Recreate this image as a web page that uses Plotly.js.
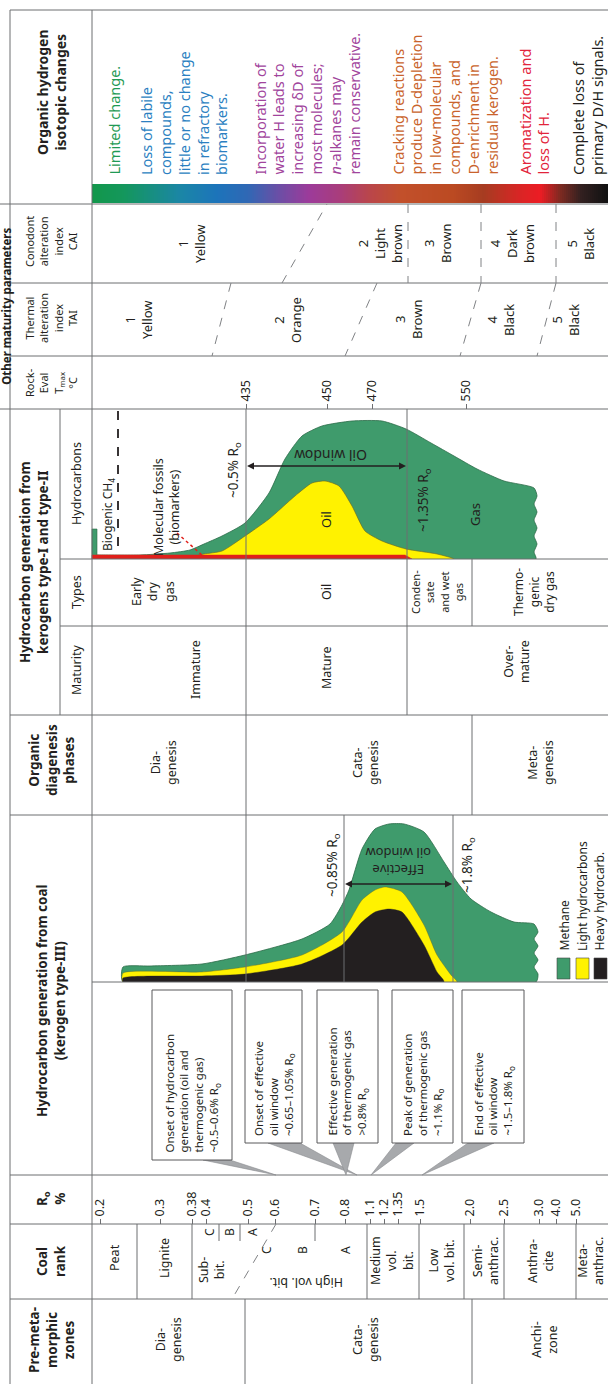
<!DOCTYPE html>
<html>
<head>
<meta charset="utf-8">
<script src="https://cdn.plot.ly/plotly-3.0.1.min.js"></script>
<style>html,body{margin:0;padding:0;background:#fff}#chart{width:608px;height:1384px}</style>
</head>
<body>
<div id="chart"></div>
<script>
const FONT = 'Noto Sans, Open Sans, sans-serif';
const INK = '#231f20';
const GRID = '#6d6e71';
const GREEN = '#3f9b6c', YELLOW = '#fff200', HEAVY = '#231f20', RED = '#e0201b';

// Vitrinite reflectance scale along the maturity direction
const roLabels = ['0.2','0.3','0.38','0.4','0.5','0.6','0.7','0.8','1.1','1.2','1.35','1.5','2.0','2.5','3.0','4.0','5.0'];
const roAt     = [100, 160, 192, 206, 248, 275, 315, 345, 370, 384, 398, 420, 470, 504, 539, 556, 576];

// Rock-Eval Tmax (°C)
const tmaxLabels = ['435','450','470','550'];
const tmaxAt     = [246, 327, 372, 466];

// Kerogen type-I / type-II generation (relative amount above baseline)
const gasPos = [97, 99, 140, 170, 190, 204, 222, 245, 269, 285, 302, 322, 352, 382, 406, 431, 454, 477, 504, 534, 537, 534, 537, 534, 537, 534, 537, 534, 536];
const gasAmt = [4, 4, 4, 6, 9, 15, 23, 36, 66, 100, 123, 133, 138, 138, 130, 116, 103, 90, 78, 71, 63, 55, 47, 39, 31, 23, 15, 7, 0];
const bioGasPos = [92, 92, 97, 97];
const bioGasAmt = [0, 30, 30, 0];
const oilPos = [178, 195, 204, 222, 245, 269, 295, 312, 325, 339, 352, 365, 382, 406, 437, 454];
const oilAmt = [0, 3, 5, 8, 23, 40, 63, 76, 78, 73, 53, 28, 18, 10, 5, 0];
const markerPos = [92, 405, 412];
const markerAmt = [4, 4, 0];

// Coal (kerogen type-III) generation
const coalGasPos = [123, 150, 202, 245, 302, 330, 342, 349, 362, 375, 389, 404, 424, 444, 457, 471, 491, 514, 534, 538, 534, 538, 534, 538, 534, 538, 536];
const coalGasAmt = [15, 16, 18, 27, 43, 58, 77, 92, 133, 153, 158, 158, 150, 120, 100, 83, 70, 60, 58, 50, 43, 36, 29, 22, 15, 8, 0];
const coalLightPos = [123, 202, 245, 302, 342, 362, 375, 385, 402, 424, 437, 451, 457];
const coalLightAmt = [9, 10, 15, 27, 50, 82, 92, 95, 90, 57, 27, 7, 0];
const coalHeavyPos = [123, 202, 245, 302, 342, 362, 375, 389, 402, 424, 437, 444];
const coalHeavyAmt = [4, 6, 8, 18, 37, 60, 70, 73, 70, 37, 10, 0];

// Oil-window limits (maturity positions)
const oilWindow = [246, 407];
const effWindow = [344, 453];

// Isotope-change colour band along the maturity direction
const bandStops = [
  [0.00, '#12974b'], [0.06, '#14975c'], [0.17, '#1b86a6'], [0.24, '#1c74ba'],
  [0.30, '#2f68b5'], [0.36, '#6a4fa6'], [0.42, '#9c3b9a'], [0.48, '#a93d7b'],
  [0.54, '#ba4649'], [0.60, '#c2502b'], [0.70, '#bb4a22'], [0.76, '#a63c21'],
  [0.83, '#d92525'], [0.87, '#ec1c24'], [0.91, '#7c2a21'], [0.95, '#322020'], [1.00, '#111111']
];

function closed(pos, amt) {
  return {x: [pos[0]].concat(pos, [pos[0]]), y: [0].concat(amt, [0])};
}

const traces = [];
// colour band
const bandX = [], bandZ = [];
for (let p = 92; p <= 608; p += 2) bandX.push(p);
for (let i = 0; i < bandX.length - 1; i++) bandZ.push(bandX[i]);
traces.push({type:'heatmap', x: bandX, y:[184, 203], z:[bandZ], colorscale: bandStops,
  zmin: 92, zmax: 606, showscale:false, hoverinfo:'skip', xaxis:'x', yaxis:'y'});

function area(pos, amt, fill, lineCol, lw, yaxis, shape) {
  const c = closed(pos, amt);
  return {type:'scatter', mode:'lines', x:c.x, y:c.y, fill:'toself', fillcolor:fill,
    line:{color:lineCol, width:lw, shape:shape || 'spline', smoothing:0.6}, hoverinfo:'skip', xaxis:'x', yaxis:yaxis};
}
traces.push(area(gasPos, gasAmt, GREEN, '#2b6b48', 0.8, 'y2'));
traces.push({type:'scatter', mode:'lines', x:bioGasPos, y:bioGasAmt, fill:'toself', fillcolor:GREEN,
  line:{color:'#2b6b48', width:0.6}, hoverinfo:'skip', xaxis:'x', yaxis:'y2'});
traces.push(area(oilPos, oilAmt, YELLOW, '#6b6420', 0.6, 'y2'));
traces.push(area(markerPos, markerAmt, RED, RED, 0.5, 'y2', 'linear'));
traces.push(area(coalGasPos, coalGasAmt, GREEN, '#2b6b48', 0.8, 'y3'));
traces.push(area(coalLightPos, coalLightAmt, YELLOW, '#6b6420', 0.4, 'y3'));
traces.push(area(coalHeavyPos, coalHeavyAmt, HEAVY, HEAVY, 0.4, 'y3'));
// carriers for the Ro and Tmax scales
traces.push({type:'scatter', mode:'none', x:[0], y:[0], xaxis:'x2', yaxis:'y', hoverinfo:'skip'});
traces.push({type:'scatter', mode:'none', x:[0], y:[0], xaxis:'x3', yaxis:'y', hoverinfo:'skip'});

// table grid
const ln = (x0, y0, x1, y1, extra) => Object.assign({type:'line', xref:'x', yref:'y', x0, y0, x1, y1, line:{color:GRID, width:1}}, extra || {});
const dash = (x0, y0, x1, y1) => ln(x0, y0, x1, y1, {line:{color:'#808285', width:1, dash:'dash'}});
const shapes = [
  ln(10, 10, 608, 10), ln(0, 204, 608, 204), ln(10, 283, 608, 283), ln(10, 356, 608, 356),
  ln(0, 409, 608, 409), ln(60, 559, 608, 559), ln(60, 626, 608, 626), ln(10, 715, 608, 715),
  ln(10, 815, 608, 815), ln(92, 982, 608, 982), ln(10, 1175, 608, 1175), ln(10, 1224, 608, 1224),
  ln(10, 1299, 608, 1299),
  ln(10, 10, 10, 1384), ln(92, 10, 92, 1384), ln(60, 409, 60, 715),
  ln(246, 409, 246, 982), ln(407, 409, 407, 715), ln(472, 559, 472, 626), ln(472, 715, 472, 815),
  ln(344, 815, 344, 982), ln(453, 815, 453, 982),
  // coal rank cells
  ln(137, 1224, 137, 1299), ln(192, 1224, 192, 1299), ln(219, 1224, 219, 1241), ln(240, 1224, 240, 1241),
  ln(315, 1224, 315, 1241), ln(367, 1224, 367, 1299), ln(419, 1224, 419, 1299), ln(464, 1224, 464, 1299),
  ln(504, 1224, 504, 1299), ln(576, 1224, 576, 1299),
  dash(276, 1224, 232, 1299),
  // pre-metamorphic zones
  ln(245, 1299, 245, 1384), ln(472, 1299, 472, 1384),
  // TAI / CAI boundaries
  dash(231, 283, 212, 356), dash(377, 283, 345, 356), dash(481, 283, 460, 356), dash(556, 283, 537, 356),
  dash(282, 283, 327, 204), dash(408, 204, 408, 283), dash(481, 204, 481, 283), dash(556, 204, 556, 283),
  // biogenic methane marker and biomarker leader
  ln(118, 411, 118, 553, {line:{color:INK, width:1.8, dash:'dash'}}),
  ln(177, 533, 203, 556, {line:{color:RED, width:1.5, dash:'dot'}})
];
// double-headed arrows spanning the oil windows
function arrow(x0, x1, y) {
  const h = 7, w = 3.5;
  shapes.push(ln(x0 + h, y, x1 - h, y, {line:{color:INK, width:1.3}}));
  shapes.push({type:'path', xref:'x', yref:'y', path:`M ${x0},${y} L ${x0 + h},${y - w} L ${x0 + h},${y + w} Z`, fillcolor:INK, line:{width:0}});
  shapes.push({type:'path', xref:'x', yref:'y', path:`M ${x1},${y} L ${x1 - h},${y - w} L ${x1 - h},${y + w} Z`, fillcolor:INK, line:{width:0}});
}
arrow(oilWindow[0] + 1, oilWindow[1] - 1, 466);
arrow(effWindow[0] + 1, effWindow[1] - 1, 884);

// callout wedges and boxes
const wedge = (a, b, tipX, yTop) => ({type:'path', xref:'x', yref:'y',
  path:`M ${a},${yTop} L ${b},${yTop} L ${tipX},1175 Z`, fillcolor:'#a7a9ac', line:{color:'#8a8c8f', width:0.6}});
shapes.push(wedge(203, 230, 276, 1160), wedge(268, 300, 357, 1143), wedge(333, 354, 346, 1143),
  wedge(396, 414, 371, 1143), wedge(468, 494, 422, 1143));
const boxes = [[152, 232, 1160], [245, 302, 1143], [317, 378, 1143], [392, 453, 1143], [462, 524, 1143]];
boxes.forEach(b => shapes.push({type:'rect', xref:'x', yref:'y', x0:b[0], x1:b[1], y0:990, y1:b[2],
  fillcolor:'#fff', line:{color:'#58595b', width:1}}));
// coal legend swatches
[[557, GREEN], [576, YELLOW], [594, HEAVY]].forEach(s => shapes.push({type:'rect', xref:'x', yref:'y',
  x0:s[0], x1:s[0] + 13, y0:958, y1:979, fillcolor:s[1], line:{color:'#444', width:0.6}}));

// text
const base = {xref:'x', yref:'y', showarrow:false, textangle:-90, xanchor:'center', yanchor:'middle', align:'center'};
const T = (x, y, text, size, o) => Object.assign({}, base, {x, y, text, font:{family:FONT, size:size || 13, color:INK}}, o || {});
const P = (x, y, text, size, color) => T(x, y, text, size, {align:'left', yanchor:'bottom', font:{family:FONT, size:size, color:color}});

const ann = [
  T(51, 92, '<b>Organic hydrogen<br>isotopic changes</b>', 14),
  T(5.8, 306, '<b>Other maturity parameters</b>', 11.5),
  T(51, 242, 'Conodont<br>alteration<br>index<br>CAI', 11),
  T(51, 318, 'Thermal<br>alteration<br>index<br>TAI', 11),
  T(51, 383, 'Rock-<br>Eval<br>T<sub>max</sub><br>°C', 11),
  T(34, 562, '<b>Hydrocarbon generation from<br>kerogens type-I and type-II</b>', 13.5),
  T(76, 484, 'Hydrocarbons', 12.5), T(76, 592, 'Types', 12.5), T(76, 670, 'Maturity', 12.5),
  T(51, 760, '<b>Organic<br>diagenesis<br>phases</b>', 13.5),
  T(51, 1001, '<b>Hydrocarbon generation from coal<br>(kerogen type-III)</b>', 13.5),
  T(51, 1199, '<b>R<sub>o</sub><br>%</b>', 13.5),
  T(51, 1261, '<b>Coal<br>rank</b>', 13.5),
  T(51, 1340, '<b>Pre-meta-<br>morphic<br>zones</b>', 13.5),

  P(113, 177, 'Limited change.', 14.5, '#1f9a54'),
  P(183, 177, 'Loss of labile<br>compounds,<br>little or no change<br>in refractory<br>biomarkers.', 14.5, '#2b7fc1'),
  P(306.5, 177, 'Incorporation of<br>water H leads to<br>increasing δD of<br>most molecules;<br><i>n</i>-alkanes may<br>remain conservative.', 14.5, '#a1449c'),
  P(444.5, 177, 'Cracking reactions<br>produce D-depletion<br>in low-molecular<br>compounds, and<br>D-enrichment in<br>residual kerogen.', 14.5, '#c9632c'),
  P(533.5, 177, 'Aromatization and<br>loss of H.', 14.5, '#e2243b'),
  P(587.5, 177, 'Complete loss of<br>primary D/H signals.', 14.5, INK),

  T(191, 244, '1<br>Yellow'), T(380, 244, '2<br>Light<br>brown'), T(437, 244, '3<br>Brown'),
  T(512, 244, '4<br>Dark<br>brown'), T(580, 244, '5<br>Black'),
  T(138, 320, '1<br>Yellow'), T(287, 320, '2<br>Orange'), T(408, 320, '3<br>Brown'),
  T(500, 320, '4<br>Black'), T(565, 320, '5<br>Black'),

  T(108, 515, 'Biogenic CH<sub>4</sub>', 12),
  T(166, 507, 'Molecular fossils<br>(biomarkers)', 12.5),
  T(234, 470, '~0.5% R<sub>o</sub>', 13.5),
  T(331, 456, 'Oil window', 14, {textangle:180}),
  T(326, 520, 'Oil', 13),
  T(424, 500, '~1.35% R<sub>o</sub>', 13.5),
  T(475, 515, 'Gas', 13),
  T(153, 592, 'Early<br>dry<br>gas', 12.5), T(326, 592, 'Oil', 12.5),
  T(437, 592, 'Conden-<br>sate<br>and wet<br>gas', 11), T(534, 592, 'Thermo-<br>genic<br>dry gas', 12),
  T(195, 670, 'Immature', 12.5), T(326, 668, 'Mature', 12.5), T(516, 662, 'Over-<br>mature', 12.5),
  T(163, 763, 'Dia-<br>genesis', 12.5), T(365, 763, 'Cata-<br>genesis', 12.5), T(540, 763, 'Meta-<br>genesis', 12.5),

  T(333, 865, '~0.85% R<sub>o</sub>', 13.5), T(468, 865, '~1.8% R<sub>o</sub>', 13.5),
  T(398, 862, 'Effective<br>oil window', 13, {textangle:180}),
  P(564, 953, 'Methane', 12, INK), P(582, 953, 'Light hydrocarbons', 12, INK), P(599, 953, 'Heavy hydrocarb.', 12, INK),

  P(192, 1155, 'Onset of hydrocarbon<br>generation (oil and<br>thermogenic gas)<br>~0.5–0.6% R<sub>o</sub>', 11.5, INK),
  P(273.5, 1138, 'Onset of effective<br>oil window<br>~0.65–1.05% R<sub>o</sub>', 11.5, INK),
  P(347.5, 1138, 'Effective generation<br>of thermogenic gas<br>>0.8% R<sub>o</sub>', 11.5, INK),
  P(422.5, 1138, 'Peak of generation<br>of thermogenic gas<br>~1.1% R<sub>o</sub>', 11.5, INK),
  P(493, 1138, 'End of effective<br>oil window<br>~1.5–1.8% R<sub>o</sub>', 11.5, INK),

  T(114, 1258, 'Peat', 12.5), T(164, 1258, 'Lignite', 12.5), T(211, 1270, 'Sub-<br>bit.', 12.5),
  T(209, 1232, 'C', 12), T(229, 1232, 'B', 12), T(252, 1232, 'A', 12),
  T(266, 1250, 'C', 12), T(302, 1250, 'B', 12), T(345, 1250, 'A', 12),
  T(306, 1283, 'High vol. bit.', 12.5, {textangle:180}),
  T(392, 1261, 'Medium<br>vol.<br>bit.', 12.5), T(441, 1261, 'Low<br>vol. bit.', 12.5),
  T(485, 1261, 'Semi-<br>anthrac.', 12.5), T(540, 1261, 'Anthra-<br>cite', 12.5), T(590, 1261, 'Meta-<br>anthrac.', 12.5),

  T(168, 1340, 'Dia-<br>genesis', 12.5), T(365, 1340, 'Cata-<br>genesis', 12.5), T(544, 1340, 'Anchi-<br>zone', 12.5)
];

const scaleAxis = (pos, vals, labels) => ({overlaying:'x', range:[0, 608], anchor:'free', position:pos, side:'top',
  tickmode:'array', tickvals:vals, ticktext:labels, ticks:'outside', ticklen:5, tickwidth:1, tickcolor:GRID,
  tickangle:-90, showgrid:false, zeroline:false, showline:false, fixedrange:true,
  tickfont:{family:FONT, size:12.5, color:INK}});

const layout = {
  width:608, height:1384, margin:{l:0, r:0, t:0, b:0}, paper_bgcolor:'#fff', plot_bgcolor:'#fff',
  showlegend:false, hovermode:false,
  xaxis:{range:[0, 608], visible:false, fixedrange:true},
  yaxis:{range:[1384, 0], visible:false, fixedrange:true},
  yaxis2:{domain:[(1384 - 559) / 1384, (1384 - 409) / 1384], range:[0, 150], visible:false, anchor:'x', fixedrange:true},
  yaxis3:{domain:[(1384 - 982) / 1384, (1384 - 815) / 1384], range:[0, 167], visible:false, anchor:'x', fixedrange:true},
  xaxis2:scaleAxis((1384 - 1224) / 1384, roAt, roLabels),
  xaxis3:scaleAxis((1384 - 409) / 1384, tmaxAt, tmaxLabels),
  shapes:shapes, annotations:ann
};

Plotly.newPlot('chart', traces, layout, {staticPlot:true, displayModeBar:false});
</script>
</body>
</html>
